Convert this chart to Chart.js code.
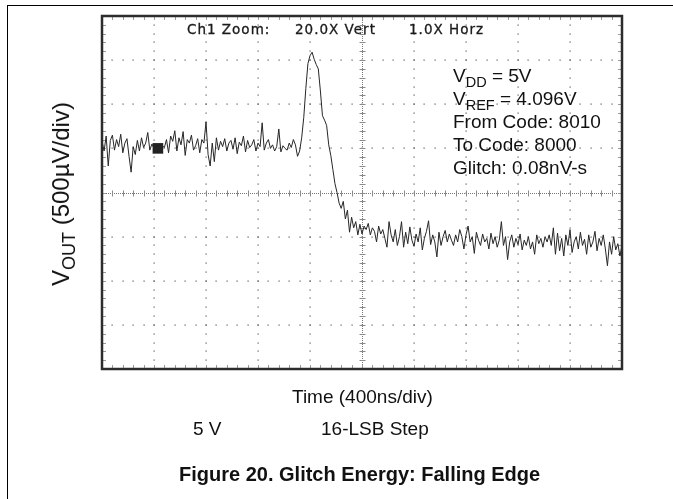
<!DOCTYPE html>
<html>
<head>
<meta charset="utf-8">
<script src="https://cdn.jsdelivr.net/npm/chart.js@4"></script>
<style>
  html, body { margin: 0; padding: 0; background: #fff; overflow: hidden; }
  #wrap { position: relative; width: 673px; height: 499px; overflow: hidden; }
  #frame { position: absolute; left: 7px; top: 5px; width: 800px; height: 600px;
           border-left: 1.5px solid #000; border-top: 1.5px solid #000; }
  canvas { position: absolute; left: 0; top: 0; }
  .t { position: absolute; white-space: nowrap; font-family: "Liberation Sans", Arial, sans-serif;
       font-size: 19px; line-height: 19px; color: #111; }
  .s { font-size: 14.5px; position: relative; top: 4.5px; }
  .ylab { font-size: 24px; line-height: 24px; }
  .ylab .s { font-size: 18px; top: 5.5px; }
  .scope { position: absolute; white-space: nowrap; font-family: "DejaVu Sans", sans-serif;
           font-size: 13.5px; line-height: 14px; color: #1a1a1a; letter-spacing: 1px;
           -webkit-text-stroke: 0.3px #1a1a1a; }
</style>
</head>
<body>
<div id="wrap">
  <div id="frame"></div>
  <canvas id="c" width="673" height="499"></canvas>

  <div class="scope" style="left:187px; top:22px;">Ch1 Zoom:</div>
  <div class="scope" style="left:295px; top:22px;">20.0X Vert</div>
  <div class="scope" style="left:409px; top:22px;">1.0X Horz</div>

  <div class="t" style="left:453px; top:66px;">V<span class="s">DD</span> = 5V</div>
  <div class="t" style="left:453px; top:89px;">V<span class="s">REF</span> = 4.096V</div>
  <div class="t" style="left:453px; top:112px;">From Code: 8010</div>
  <div class="t" style="left:453px; top:135px;">To Code: 8000</div>
  <div class="t" style="left:453px; top:158px;">Glitch: 0.08nV-s</div>

  <div class="t ylab" style="left:62px; top:194px; transform: translate(-50%,-50%) rotate(-90deg);">V<span class="s">OUT</span> (500µV/div)</div>

  <div class="t" style="left:292px; top:387px;">Time (400ns/div)</div>
  <div class="t" style="left:193px; top:419px;">5 V</div>
  <div class="t" style="left:321px; top:419px;">16-LSB Step</div>
  <div class="t" style="left:179px; top:464px; font-size:20px; line-height:20px; font-weight:bold;">Figure 20. Glitch Energy: Falling Edge</div>
</div>

<script>
// ---- data (time in ns, 400 ns/div; Vout offset in µV, 500 µV/div) ----
const xGridNs = [-2000, -1600, -1200, -800, -400, 0, 400, 800, 1200, 1600, 2000];
const yGridUv = [-2000, -1500, -1000, -500, 0, 500, 1000, 1500, 2000];
const sampleStartNs = -2000;
const sampleStepNs = 16;

// before the code change
const voutBeforeUv = [
  580, 470, 640, 300, 590, 650, 480, 600, 520, 660, 450, 560, 610, 410, 230, 520,
  430, 590, 470, 620, 510, 560, 680, 480, 550, 500, 470, 520, 480, 530, 510, 600,
  450, 640, 580, 700, 470, 620, 540, 690, 420, 600, 560, 650, 480, 530, 610, 450,
  600, 560, 800, 430, 300, 560, 350, 620, 480, 580, 520, 610, 470, 560, 590, 490,
  620, 440, 570, 530, 640, 460, 590, 510, 540, 600, 470, 560, 520, 790, 480, 560,
  600, 500, 540, 470, 520, 720, 460, 530, 500, 480, 560, 510, 600, 540, 410, 470
];
// the glitch and falling step
const voutGlitchUv = [
  620, 850, 1180, 1460, 1550, 1590, 1510, 1450, 1400, 1150, 870, 820, 760, 540, 420, 260, 100, 0, -120, -180,
  -100, -300, -200, -450, -280, -400, -330, -480, -360, -470, -380, -420, -350, -480, -400, -440, -560, -380,
  -470, -420, -520, -620, -330
];
// settled after the code change
const voutAfterUv = [
  -480, -560, -420, -600, -500, -330, -620, -450, -580, -390, -540, -610, -470, -560, -400, -650,
  -520, -440, -320, -590, -480, -560, -730, -450, -600, -500, -430, -560, -470, -540, -600, -480,
  -560, -420, -500, -640, -480, -380, -560, -500, -690, -450, -540, -600, -470, -560, -520, -640,
  -460, -580, -500, -620, -540, -330, -600, -500, -760, -560, -480, -620, -520, -590, -470, -650,
  -540, -600, -500, -640, -560, -700, -480, -580, -520, -620, -500, -560, -480, -600, -400, -700,
  -460, -660, -520, -720, -480, -600, -420, -680, -560, -500, -640, -450, -600, -530, -700, -480,
  -620, -560, -440, -660, -520, -600, -480, -640, -830, -560, -700, -500, -650, -580, -720, -600
];
// trigger marker
const markerNs = [-1570];
const markerUv = [500];

const voutUv = voutBeforeUv.concat(voutGlitchUv, voutAfterUv);
const tracePoints = voutUv.map((v, i) => ({ x: sampleStartNs + i * sampleStepNs, y: v }));
const markerPoints = markerNs.map((t, i) => ({ x: t, y: markerUv[i] }));

function minorValues(major) {
  const step = (major[1] - major[0]) / 5;
  const out = [];
  const n = Math.round((major[major.length - 1] - major[0]) / step);
  for (let k = 0; k <= n; k++) out.push(major[0] + k * step);
  return out;
}

const scopeGrid = {
  id: 'scopeGrid',
  beforeDatasetsDraw(chart) {
    const { ctx, chartArea: a, scales: { x, y } } = chart;
    const xm = minorValues(xGridNs).map(v => Math.round(x.getPixelForValue(v)));
    const ym = minorValues(yGridUv).map(v => Math.round(y.getPixelForValue(v)));
    ctx.save();
    // dotted major grid
    ctx.fillStyle = '#5a5a5a';
    xGridNs.slice(1, -1).forEach(v => {
      if (v === 0) return;
      const px = Math.round(x.getPixelForValue(v));
      ym.forEach(py => ctx.fillRect(px - 0.5, py - 0.5, 1.2, 1.2));
    });
    yGridUv.slice(1, -1).forEach(v => {
      if (v === 0) return;
      const py = Math.round(y.getPixelForValue(v));
      xm.forEach(px => ctx.fillRect(px - 0.5, py - 0.5, 1.2, 1.2));
    });
    // center lines
    const cx = Math.round(x.getPixelForValue(0)) + 0.5;
    const cy = Math.round(y.getPixelForValue(0)) + 0.5;
    ctx.strokeStyle = '#777';
    ctx.lineWidth = 1;
    ctx.setLineDash([1, 1]);
    ctx.beginPath();
    ctx.moveTo(cx, a.top); ctx.lineTo(cx, a.bottom);
    ctx.moveTo(a.left, cy); ctx.lineTo(a.right, cy);
    ctx.stroke();
    ctx.setLineDash([]);
    ctx.strokeStyle = '#8a8a8a';
    ctx.beginPath();
    ym.forEach(py => { ctx.moveTo(cx - 3, py + 0.5); ctx.lineTo(cx + 3, py + 0.5); });
    xm.forEach(px => { ctx.moveTo(px + 0.5, cy - 3); ctx.lineTo(px + 0.5, cy + 3); });
    ctx.stroke();
    // border ticks
    ctx.strokeStyle = '#9a9a9a';
    ctx.beginPath();
    xm.forEach(px => {
      ctx.moveTo(px + 0.5, a.top); ctx.lineTo(px + 0.5, a.top + 4);
      ctx.moveTo(px + 0.5, a.bottom); ctx.lineTo(px + 0.5, a.bottom - 4);
    });
    ym.forEach(py => {
      ctx.moveTo(a.left, py + 0.5); ctx.lineTo(a.left + 4, py + 0.5);
      ctx.moveTo(a.right, py + 0.5); ctx.lineTo(a.right - 4, py + 0.5);
    });
    ctx.stroke();
    ctx.restore();
  },
  afterDatasetsDraw(chart) {
    const { ctx, chartArea: a } = chart;
    ctx.save();
    ctx.strokeStyle = '#2c2c2c';
    ctx.lineWidth = 2.5;
    ctx.strokeRect(a.left, a.top, a.right - a.left, a.bottom - a.top);
    ctx.restore();
  }
};

new Chart(document.getElementById('c'), {
  type: 'line',
  data: {
    datasets: [
      {
        data: tracePoints,
        borderColor: '#262626',
        borderWidth: 1,
        pointRadius: 0,
        tension: 0,
        fill: false
      },
      {
        type: 'scatter',
        data: markerPoints,
        pointStyle: 'rect',
        pointRadius: 7.5,
        backgroundColor: '#222',
        borderColor: '#222',
        borderWidth: 0
      }
    ]
  },
  options: {
    responsive: false,
    animation: false,
    events: [],
    layout: { padding: { left: 102, top: 16, right: 51, bottom: 130 } },
    plugins: { legend: { display: false }, tooltip: { enabled: false } },
    scales: {
      x: { type: 'linear', display: false, min: xGridNs[0], max: xGridNs[xGridNs.length - 1] },
      y: { type: 'linear', display: false, min: yGridUv[0], max: yGridUv[yGridUv.length - 1] }
    }
  },
  plugins: [scopeGrid]
});
</script>
</body>
</html>
